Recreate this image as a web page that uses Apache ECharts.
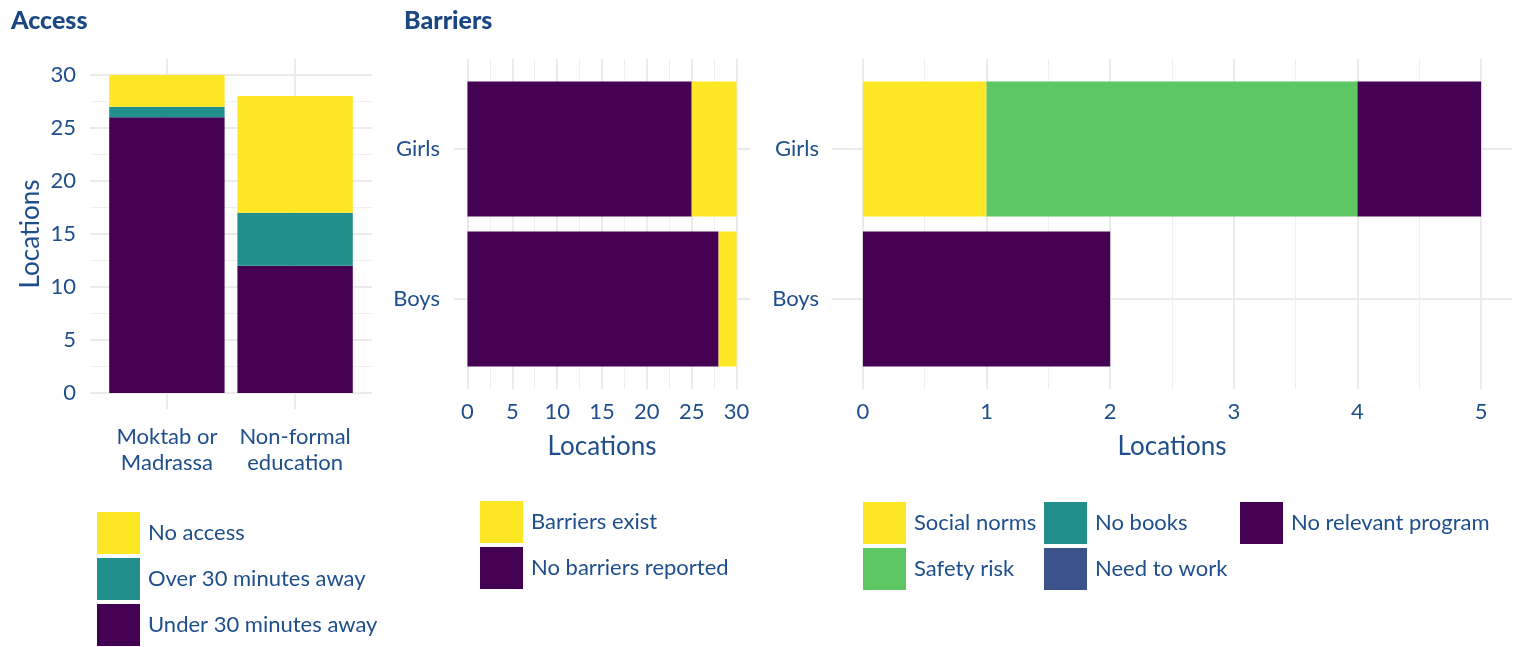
<!DOCTYPE html>
<html>
<head>
<meta charset="utf-8">
<script src="https://cdn.jsdelivr.net/npm/echarts@6/dist/echarts.min.js"></script>
<style>
html,body{margin:0;padding:0;background:#fff;}
#chart{width:1514px;height:647px;}
</style>
</head>
<body>
<div id="chart"></div>
<script>
// ---- Access panel ----
const accessCategories = ['Moktab or\nMadrassa', 'Non-formal\neducation'];
const accessUnder30 = [26, 12];
const accessOver30 = [1, 5];
const accessNoAccess = [3, 11];
const accessTicks = [0, 5, 10, 15, 20, 25, 30];
const accessMinorTicks = [2.5, 7.5, 12.5, 17.5, 22.5, 27.5];

// ---- Barriers panel (exist / not) ----
const genderCategories = ['Boys', 'Girls'];
const noBarriersReported = [28, 25];
const barriersExist = [2, 5];
const barrierTicks = [0, 5, 10, 15, 20, 25, 30];
const barrierMinorTicks = [2.5, 7.5, 12.5, 17.5, 22.5, 27.5];

// ---- Barrier types panel ----
const socialNorms = [0, 1];
const safetyRisk = [0, 3];
const noBooks = [0, 0];
const needToWork = [0, 0];
const noRelevantProgram = [2, 1];
const typeTicks = [0, 1, 2, 3, 4, 5];
const typeMinorTicks = [0.5, 1.5, 2.5, 3.5, 4.5];

const C = {
  yellow: '#FDE725', teal: '#21908C', purple: '#440154', green: '#5DC863', blue: '#3B528B'
};
const TXT = '#1f4e8c';
const FONT = 'Lato';
const FS = 22;
const majorLine = { show: true, lineStyle: { color: '#ebebeb', width: 2 } };
const minorLine = { show: true, lineStyle: { color: '#f0f0f0', width: 1 } };

function majorAxis(extra) {
  return Object.assign({
    type: 'value',
    axisLine: { show: false },
    splitLine: majorLine,
    axisLabel: { color: TXT, fontFamily: FONT, fontSize: FS, margin: 13 },
    nameTextStyle: { color: TXT, fontFamily: FONT, fontSize: 26 }
  }, extra);
}
function minorAxis(extra, values) {
  return Object.assign({
    type: 'value',
    axisLine: { show: false },
    axisLabel: { show: false },
    axisTick: { show: false, customValues: values },
    splitLine: minorLine
  }, extra);
}
const catIndex = accessCategories.map((c, i) => i + 1);
const genderIndex = genderCategories.map((c, i) => i + 1);

const legendBase = {
  orient: 'vertical', itemWidth: 43, itemHeight: 42, itemGap: 4, padding: 0,
  icon: 'rect', selectedMode: false,
  textStyle: { color: TXT, fontFamily: FONT, fontSize: FS, padding: [3, 0, 0, 3] }
};
const catAxisBase = {
  type: 'category', axisLine: { show: false }, axisTick: { show: false }, splitLine: { show: false }
};

const option = {
  animation: false,
  backgroundColor: '#fff',
  textStyle: { fontFamily: FONT },
  title: [
    { text: 'Access', left: 6, top: 3, textStyle: { color: '#1a4784', fontFamily: FONT, fontWeight: 900, fontSize: 25 } },
    { text: 'Barriers', left: 399, top: 3, textStyle: { color: '#1a4784', fontFamily: FONT, fontWeight: 900, fontSize: 25 } }
  ],
  legend: [
    Object.assign({ left: 97, top: 512, data: ['No access', 'Over 30 minutes away', 'Under 30 minutes away'] }, legendBase),
    Object.assign({ left: 480, top: 501, data: ['Barriers exist', 'No barriers reported'] }, legendBase),
    Object.assign({ left: 863, top: 502, data: ['Social norms', 'Safety risk'] }, legendBase),
    Object.assign({ left: 1044, top: 502, data: ['No books', 'Need to work'] }, legendBase),
    Object.assign({ left: 1240, top: 502, data: ['No relevant program'] }, legendBase)
  ],
  grid: [
    { left: 90, top: 59, width: 282, height: 350 },       // 0 access gridlines
    { left: 102.8, top: 59, width: 256.4, height: 350 },  // 1 access bars
    { left: 454, top: 59, width: 296, height: 330 },      // 2 barriers gridlines
    { left: 454, top: 74, width: 296, height: 300 },      // 3 barriers bars
    { left: 832, top: 59, width: 680, height: 330 },      // 4 types gridlines
    { left: 832, top: 74, width: 680, height: 300 }       // 5 types bars
  ],
  xAxis: [
    // 0: access category gridlines
    majorAxis({
      gridIndex: 0, min: 0.4, max: 2.6,
      axisTick: { show: false, customValues: catIndex },
      axisLabel: { show: false }
    }),
    // 1: access categories (bars)
    Object.assign({}, catAxisBase, {
      gridIndex: 1, data: accessCategories,
      axisLabel: { color: TXT, fontFamily: FONT, fontSize: FS, margin: 15, lineHeight: 26, interval: 0, hideOverlap: false }
    }),
    // 2: barriers major
    majorAxis({
      gridIndex: 2, min: -1.5, max: 31.5, name: 'Locations', nameLocation: 'middle', nameGap: 45,
      axisTick: { show: false, customValues: barrierTicks },
      axisLabel: { color: TXT, fontFamily: FONT, fontSize: FS, margin: 12, customValues: barrierTicks }
    }),
    // 3: barriers minor
    minorAxis({ gridIndex: 2, min: -1.5, max: 31.5 }, barrierMinorTicks),
    // 4: barriers bar axis (hidden)
    { type: 'value', gridIndex: 3, min: -1.5, max: 31.5, show: false },
    // 5: types major
    majorAxis({
      gridIndex: 4, min: -0.25, max: 5.25, name: 'Locations', nameLocation: 'middle', nameGap: 45,
      axisTick: { show: false, customValues: typeTicks },
      axisLabel: { color: TXT, fontFamily: FONT, fontSize: FS, margin: 12, customValues: typeTicks }
    }),
    // 6: types minor
    minorAxis({ gridIndex: 4, min: -0.25, max: 5.25 }, typeMinorTicks),
    // 7: types bar axis (hidden)
    { type: 'value', gridIndex: 5, min: -0.25, max: 5.25, show: false }
  ],
  yAxis: [
    // 0: access major
    majorAxis({
      gridIndex: 0, min: -1.5, max: 31.5, name: 'Locations', nameLocation: 'middle', nameGap: 46,
      axisTick: { show: false, customValues: accessTicks },
      axisLabel: { color: TXT, fontFamily: FONT, fontSize: FS, margin: 14, customValues: accessTicks }
    }),
    // 1: access minor
    minorAxis({ gridIndex: 0, min: -1.5, max: 31.5 }, accessMinorTicks),
    // 2: access bar value axis (hidden)
    { type: 'value', gridIndex: 1, min: -1.5, max: 31.5, show: false },
    // 3: barriers gender gridlines
    majorAxis({
      gridIndex: 2, min: 0.4, max: 2.6,
      axisTick: { show: false, customValues: genderIndex },
      axisLabel: { show: false }
    }),
    // 4: barriers category axis
    Object.assign({}, catAxisBase, {
      gridIndex: 3, data: genderCategories,
      axisLabel: { color: TXT, fontFamily: FONT, fontSize: FS, margin: 14, padding: [7, 0, 0, 0] }
    }),
    // 5: types gender gridlines
    majorAxis({
      gridIndex: 4, min: 0.4, max: 2.6,
      axisTick: { show: false, customValues: genderIndex },
      axisLabel: { show: false }
    }),
    // 6: types category axis
    Object.assign({}, catAxisBase, {
      gridIndex: 5, data: genderCategories,
      axisLabel: { color: TXT, fontFamily: FONT, fontSize: FS, margin: 13, padding: [7, 0, 0, 0] }
    })
  ],
  series: [
    { name: 'Under 30 minutes away', type: 'bar', stack: 'access', xAxisIndex: 1, yAxisIndex: 2, barWidth: '90%', itemStyle: { color: C.purple }, data: accessUnder30 },
    { name: 'Over 30 minutes away', type: 'bar', stack: 'access', xAxisIndex: 1, yAxisIndex: 2, barWidth: '90%', itemStyle: { color: C.teal }, data: accessOver30 },
    { name: 'No access', type: 'bar', stack: 'access', xAxisIndex: 1, yAxisIndex: 2, barWidth: '90%', itemStyle: { color: C.yellow }, data: accessNoAccess },

    { name: 'No barriers reported', type: 'bar', stack: 'barriers', xAxisIndex: 4, yAxisIndex: 4, barWidth: '90%', itemStyle: { color: C.purple }, data: noBarriersReported },
    { name: 'Barriers exist', type: 'bar', stack: 'barriers', xAxisIndex: 4, yAxisIndex: 4, barWidth: '90%', itemStyle: { color: C.yellow }, data: barriersExist },

    { name: 'Social norms', type: 'bar', stack: 'types', xAxisIndex: 7, yAxisIndex: 6, barWidth: '90%', itemStyle: { color: C.yellow }, data: socialNorms },
    { name: 'Safety risk', type: 'bar', stack: 'types', xAxisIndex: 7, yAxisIndex: 6, barWidth: '90%', itemStyle: { color: C.green }, data: safetyRisk },
    { name: 'No books', type: 'bar', stack: 'types', xAxisIndex: 7, yAxisIndex: 6, barWidth: '90%', itemStyle: { color: C.teal }, data: noBooks },
    { name: 'Need to work', type: 'bar', stack: 'types', xAxisIndex: 7, yAxisIndex: 6, barWidth: '90%', itemStyle: { color: C.blue }, data: needToWork },
    { name: 'No relevant program', type: 'bar', stack: 'types', xAxisIndex: 7, yAxisIndex: 6, barWidth: '90%', itemStyle: { color: C.purple }, data: noRelevantProgram }
  ]
};

const chart = echarts.init(document.getElementById('chart'), null, { renderer: 'canvas' });
chart.setOption(option);
</script>
</body>
</html>
